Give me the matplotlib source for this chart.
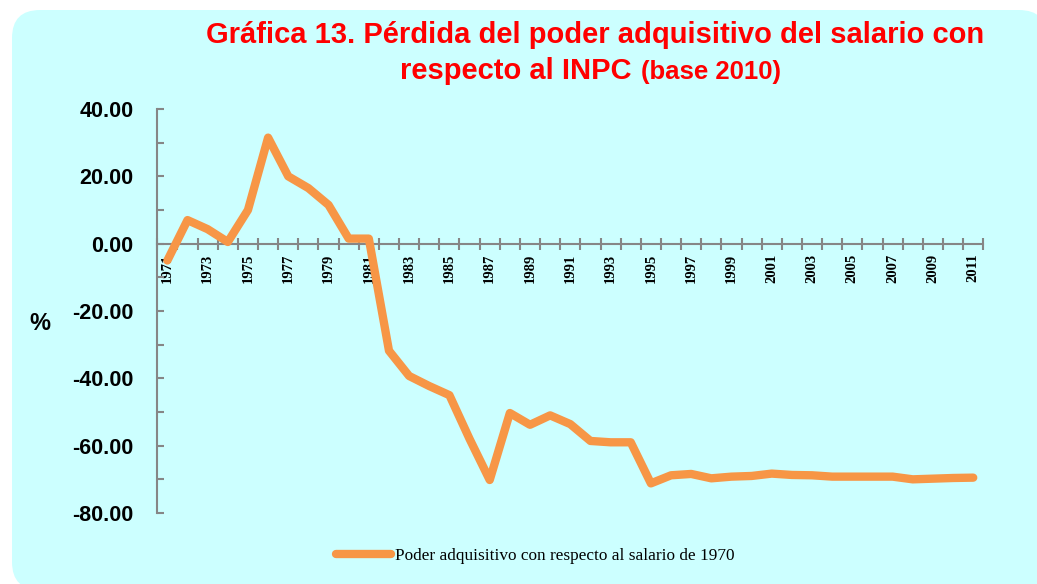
import numpy as np
import matplotlib.pyplot as plt
from matplotlib.patches import FancyBboxPatch
from matplotlib.ticker import MultipleLocator, FixedLocator

# ── Data ───────────────────────────────────────────────────────────────────────
years = list(range(1971, 2012))
poder_adq = [
    -5.0, 7.0, 4.3, 0.5, 10.0, 31.5, 20.0, 16.5, 11.5, 1.5,
    1.5, -31.8, -39.3, -42.3, -45.0, -58.0, -70.2, -50.3, -53.8, -51.0,
    -53.6, -58.6, -59.0, -59.0, -71.2, -68.8, -68.4, -69.7, -69.2, -69.0,
    -68.3, -68.7, -68.8, -69.2, -69.2, -69.2, -69.2, -70.0, -69.8, -69.6,
    -69.5,
]
year_labels = [str(y) for y in years[::2]]
series_label = "Poder adquisitivo con respecto al salario de 1970"

BG = "#CCFFFF"
ORANGE = "#F79646"
GRAY = "#868686"
W, H = 1037, 584

fig = plt.figure(figsize=(W / 100, H / 100), dpi=100, facecolor="white")

# rounded cyan panel (inches, so the corners stay circular)
px0, py0, px1, py1 = 12, -6, W + 10, H - 10
panel = FancyBboxPatch((px0 / 100, py0 / 100), (px1 - px0) / 100, (py1 - py0) / 100,
                       boxstyle="round,pad=0,rounding_size=0.28",
                       transform=fig.dpi_scale_trans, facecolor=BG,
                       edgecolor="none", zorder=-10)
fig.patches.append(panel)

ax = fig.add_axes([157.3 / W, 1 - 513 / H, 826 / W, 404 / H])
ax.set_facecolor("none")
ax.set_zorder(2)

ax.plot(years, poder_adq, color=ORANGE, lw=6, solid_capstyle="round",
        solid_joinstyle="round", label=series_label, zorder=3)

ax.set_xlim(years[0] - 0.5, years[-1] + 0.5)
ax.set_ylim(-80, 40)

# spines
for s in ["top", "right"]:
    ax.spines[s].set_visible(False)
ax.spines["left"].set_color(GRAY)
ax.spines["left"].set_linewidth(1.5)
ax.spines["bottom"].set_position(("data", 0))
ax.spines["bottom"].set_color(GRAY)
ax.spines["bottom"].set_linewidth(1.5)

# y ticks
ax.yaxis.set_major_locator(MultipleLocator(20))
ax.yaxis.set_minor_locator(MultipleLocator(10))
ax.tick_params(axis="y", which="both", direction="in", length=5, width=1.5,
               color=GRAY, pad=17)
yt = np.arange(-80, 41, 20)
ax.set_yticks(yt)
ax.set_yticklabels([f"{v:.2f}" for v in yt],
                   fontfamily="Liberation Sans", fontweight="bold", fontsize=15.5)

# x ticks: marks at category boundaries, labels at odd years
ax.xaxis.set_minor_locator(FixedLocator(np.arange(years[0] - 0.5, years[-1] + 1, 1)))
ax.xaxis.set_major_locator(FixedLocator(years[::2]))
ax.set_xticklabels(year_labels, rotation=90, fontfamily="Liberation Serif",
                   fontweight="bold", fontsize=10.5)
ax.tick_params(axis="x", which="minor", direction="inout", length=8, width=1.5,
               color=GRAY)
ax.tick_params(axis="x", which="major", length=0, pad=7)

# texts
fig.text(40 / W, 1 - 323 / H, "%", fontfamily="Liberation Sans", fontweight="bold",
         fontsize=17, ha="center", va="center")
fig.text(595 / W, 1 - 43 / H,
         "Gráfica 13. Pérdida del poder adquisitivo del salario con",
         color="#FF0000", fontfamily="Liberation Sans", fontweight="bold",
         fontsize=21, ha="center", va="baseline")
fig.text(632 / W, 1 - 79 / H, "respecto al INPC", color="#FF0000",
         fontfamily="Liberation Sans", fontweight="bold", fontsize=21,
         ha="right", va="baseline")
fig.text(641 / W, 1 - 79 / H, "(base 2010)", color="#FF0000",
         fontfamily="Liberation Sans", fontweight="bold", fontsize=18.5,
         ha="left", va="baseline")

fig.legend(loc="center", bbox_to_anchor=(535 / W, 1 - 556 / H), frameon=False,
           prop={"family": "Liberation Serif", "size": 12.4}, handlelength=3.2,
           handletextpad=0.2)

fig.savefig("out.png", dpi=100, facecolor="white")
